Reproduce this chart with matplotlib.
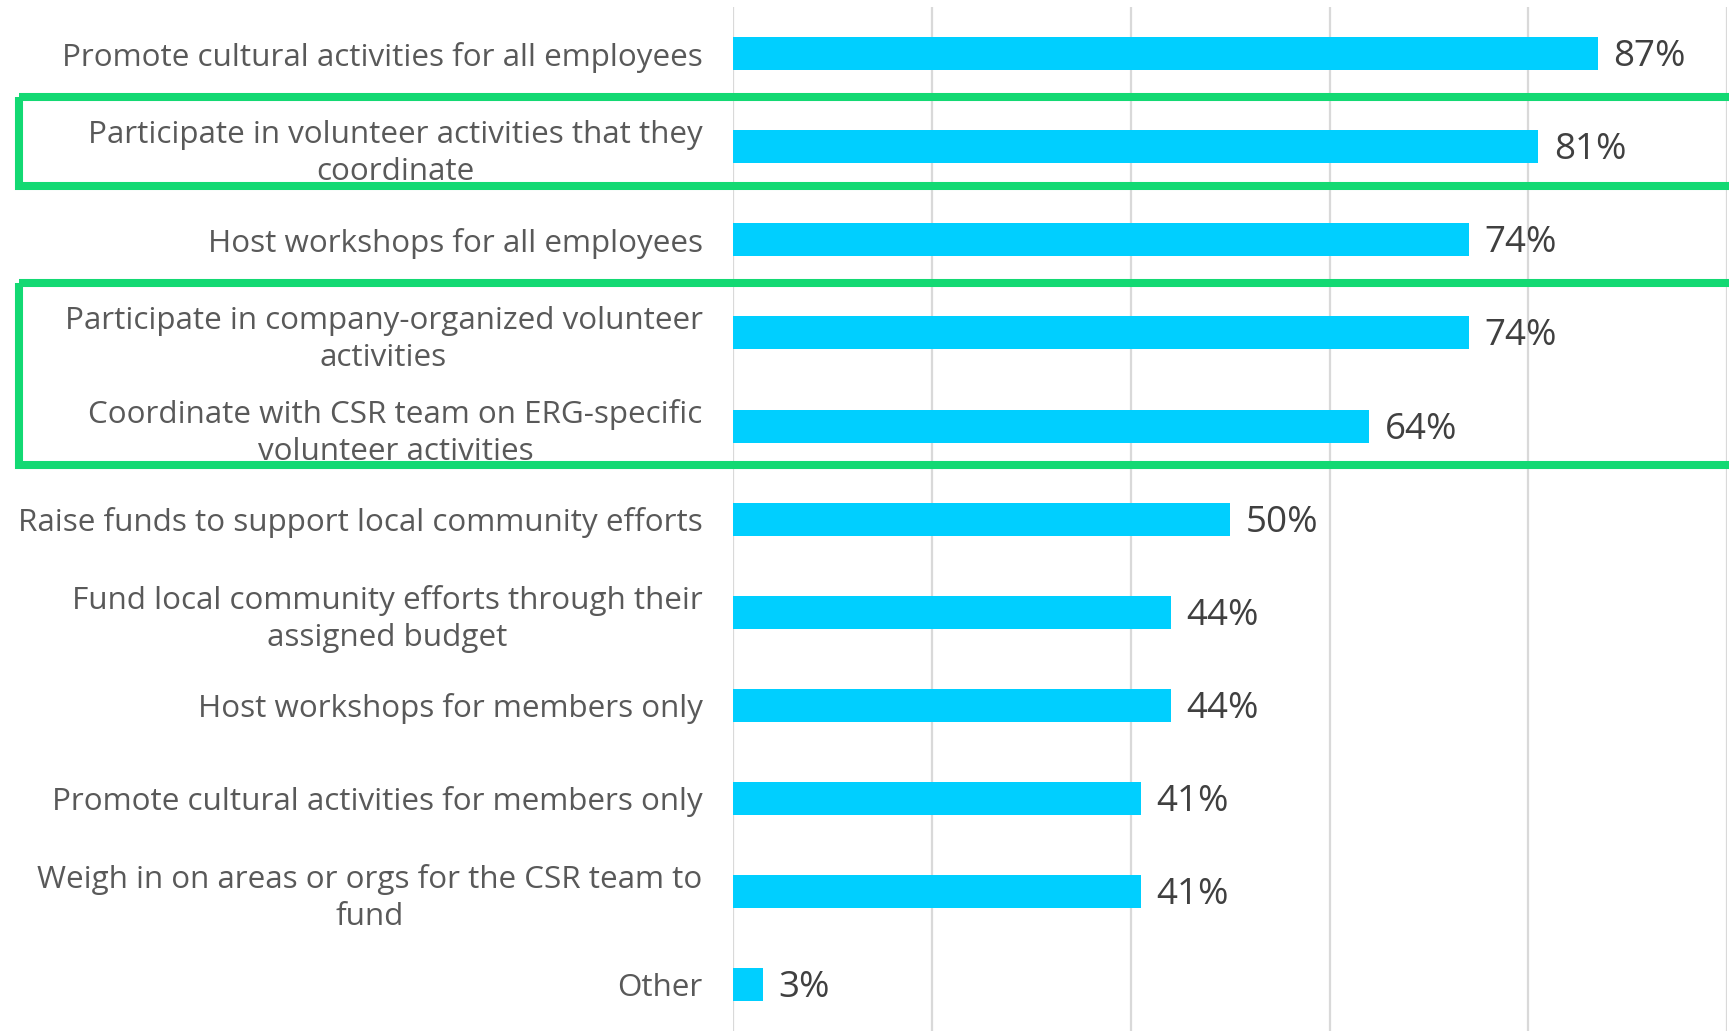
import matplotlib
matplotlib.use('Agg')
import matplotlib.pyplot as plt
from matplotlib.patches import Rectangle
from matplotlib.transforms import blended_transform_factory

plt.rcParams['font.family'] = ['Open Sans', 'DejaVu Sans']

activities = [
    "Promote cultural activities for all employees",
    "Participate in volunteer activities that they\ncoordinate",
    "Host workshops for all employees",
    "Participate in company-organized volunteer\nactivities",
    "Coordinate with CSR team on ERG-specific\nvolunteer activities",
    "Raise funds to support local community efforts",
    "Fund local community efforts through their\nassigned budget",
    "Host workshops for members only",
    "Promote cultural activities for members only",
    "Weigh in on areas or orgs for the CSR team to\nfund",
    "Other",
]
shares = [87, 81, 74, 74, 64, 50, 44, 44, 41, 41, 3]

# rows picked out with a green frame: (first row, last row)
highlight_groups = [(1, 1), (3, 4)]

BAR_COLOR = '#00CFFF'
FRAME_COLOR = '#13D973'
GRID_COLOR = '#D9D9D9'

fig = plt.figure(figsize=(17.29, 10.31), dpi=100)
ax = fig.add_axes([0.424, 0.0, 0.575, 0.993])

pos = list(range(len(activities)))
ax.barh(pos, shares, height=0.355, color=BAR_COLOR, zorder=2)

for y, v in zip(pos, shares):
    ax.annotate(f"{v}%", (v, y), xytext=(11, -2.5), textcoords='offset points',
                va='center', ha='left', fontsize=26.5, color='#404040')

ax.set_xlim(0, 100)
ax.set_ylim(len(activities) - 0.5, -0.5)
ax.set_xticks(range(0, 101, 20))
ax.set_xticklabels([])
ax.set_yticks(pos)
ax.set_yticklabels(activities, fontsize=22.6, color='#595959', linespacing=1.3)
for t in ax.get_yticklabels():
    t.set_multialignment('center')
ax.tick_params(axis='both', length=0)
ax.tick_params(axis='y', pad=22)
ax.grid(axis='x', color=GRID_COLOR, linewidth=1.6, zorder=0)
ax.set_axisbelow(True)
for s in ax.spines.values():
    s.set_visible(False)

# green frames span the full figure width, rows in data units
trans = blended_transform_factory(fig.transFigure, ax.transData)
for first, last in highlight_groups:
    top = first - 0.54
    bottom = last + 0.42
    rect = Rectangle((0.0107, top), 1.2, bottom - top, transform=trans,
                     fill=False, edgecolor=FRAME_COLOR, linewidth=5.8,
                     clip_on=False, zorder=5)
    ax.add_patch(rect)

fig.savefig('out.png', dpi=100, facecolor='white')
